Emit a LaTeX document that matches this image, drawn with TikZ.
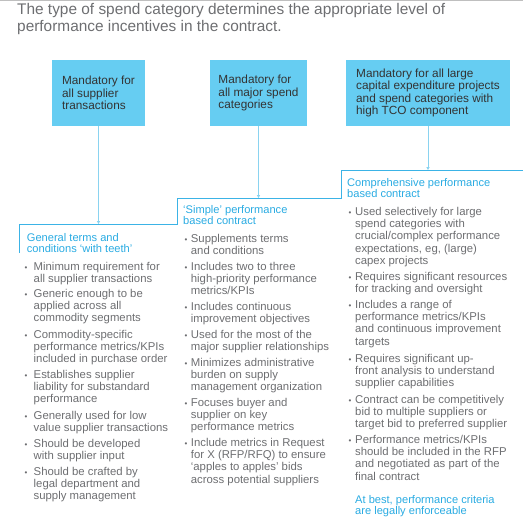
\documentclass[tikz,border=0pt]{standalone}
\usepackage{fontspec}
\setmainfont{Liberation Sans}
\usetikzlibrary{arrows.meta}
\definecolor{boxblue}{HTML}{66CDF2}
\definecolor{headblue}{HTML}{29ABE2}
\definecolor{stairblue}{HTML}{3BB3E6}
\definecolor{connblue}{HTML}{8AD3F0}
\definecolor{txtgrey}{HTML}{6D6E71}
\definecolor{boxtxt}{HTML}{333333}
\newcommand\lns[1]{\begin{tabular}[t]{@{}l@{}}#1\end{tabular}}
\newcommand\itm[2]{\makebox[#1pt][l]{\fontsize{8}{8}\selectfont\textbullet}\lns{#2}}
\begin{document}
\begin{tikzpicture}[x=1pt,y=-1pt,
  catbox/.style={fill=boxblue,draw=none,minimum height=66pt,inner sep=0pt,align=left,
    text=boxtxt,font=\fontsize{11.8}{12.5}\selectfont},
  head/.style={anchor=base west,inner sep=0pt,text=headblue,
    font=\fontsize{11.1}{11.8}\selectfont},
  item/.style={anchor=base west,inner sep=0pt,text=txtgrey,
    font=\fontsize{11.35}{12.45}\selectfont},
  stair/.style={draw=stairblue,line width=0.9pt},
  conn/.style={draw=connblue,line width=0.9pt,-{Triangle[width=3.2pt,length=3pt]},color=connblue}]
\useasboundingbox (0,0) rectangle (523,531);
\draw[black!25,line width=1pt] (0,0.5) -- (523,0.5);
% title
\node[anchor=base west,inner sep=0pt,text=txtgrey,
  font=\fontsize{15.4}{17}\selectfont] (title) at (17,14)
  {\lns{The type of spend category determines the appropriate level of\\performance incentives in the contract.}};
% boxes
\node[catbox,minimum width=93pt] (b1) at (98.5,93) {Mandatory for\\all supplier\\transactions};
\node[catbox,minimum width=97pt] (b2) at (258.5,93) {Mandatory for\\all major spend\\categories};
\node[catbox,minimum width=164pt] (b3) at (428,93) {Mandatory for all large\\capital expenditure projects\\and spend categories with\\high TCO component};
% staircase
\coordinate (s0) at (19,253);
\coordinate (s1) at (19,224);
\coordinate (s2) at (177,224);
\coordinate (s3) at (177,198);
\coordinate (s4) at (341,198);
\coordinate (s5) at (341,170);
\coordinate (s6) at (523,170);
\draw[stair] (s0) -- (s1) -- (s2) -- (s3) -- (s4) -- (s5) -- (s6);
\draw[conn] (b1.south) -- (b1.south |- s1);
\draw[conn] (b2.south) -- (b2.south |- s3);
\draw[conn] (b3.south) -- (b3.south |- s5);
% column 1
\node[head] (h1) at (26.7,241) {\lns{General terms and\\conditions ‘with teeth’}};
\node[item] (c1a) at (24.3,270) {\itm{9.2}{Minimum requirement for\\all supplier transactions}};
\node[item] (c1b) at (24.3,297) {\itm{9.2}{Generic enough to be\\applied across all\\commodity segments}};
\node[item] (c1c) at (24.3,338) {\itm{9.2}{Commodity-specific\\performance metrics/KPIs\\included in purchase order}};
\node[item] (c1d) at (24.3,378) {\itm{9.2}{Establishes supplier\\liability for substandard\\performance}};
\node[item] (c1e) at (24.3,419) {\itm{9.2}{Generally used for low\\value supplier transactions}};
\node[item] (c1f) at (24.3,447) {\itm{9.2}{Should be developed\\with supplier input}};
\node[item] (c1g) at (24.3,475) {\itm{9.2}{Should be crafted by\\legal department and\\supply management}};
% column 2
\node[head] (h2) at (183,213) {\lns{‘Simple’ performance\\based contract}};
\node[item] (c2a) at (184.3,242) {\itm{6.4}{Supplements terms\\and conditions}};
\node[item] (c2b) at (184.3,270) {\itm{6.4}{Includes two to three\\high-priority performance\\metrics/KPIs}};
\node[item] (c2c) at (184.3,310) {\itm{6.4}{Includes continuous\\improvement objectives}};
\node[item] (c2d) at (184.3,338) {\itm{6.4}{Used for the most of the\\major supplier relationships}};
\node[item] (c2e) at (184.3,366) {\itm{6.4}{Minimizes administrative\\burden on supply\\management organization}};
\node[item] (c2f) at (184.3,406) {\itm{6.4}{Focuses buyer and\\supplier on key\\performance metrics}};
\node[item] (c2g) at (184.3,446) {\itm{6.4}{Include metrics in Request\\for X (RFP/RFQ) to ensure\\‘apples to apples’ bids\\across potential suppliers}};
% column 3
\node[head] (h3) at (347,186) {\lns{Comprehensive performance\\based contract}};
\node[item] (c3a) at (348.3,215) {\itm{6.7}{Used selectively for large\\spend categories with\\crucial/complex performance\\expectations, eg, (large)\\capex projects}};
\node[item] (c3b) at (348.3,280) {\itm{6.7}{Requires significant resources\\for tracking and oversight}};
\node[item] (c3c) at (348.3,308) {\itm{6.7}{Includes a range of\\performance metrics/KPIs\\and continuous improvement\\targets}};
\node[item] (c3d) at (348.3,362) {\itm{6.7}{Requires significant up-\\front analysis to understand\\supplier capabilities}};
\node[item] (c3e) at (348.3,403) {\itm{6.7}{Contract can be competitively\\bid to multiple suppliers or\\target bid to preferred supplier}};
\node[item] (c3f) at (348.3,443) {\itm{6.7}{Performance metrics/KPIs\\should be included in the RFP\\and negotiated as part of the\\final contract}};
\node[head] (note) at (355,503) {\lns{At best, performance criteria\\are legally enforceable}};
\end{tikzpicture}
\end{document}
